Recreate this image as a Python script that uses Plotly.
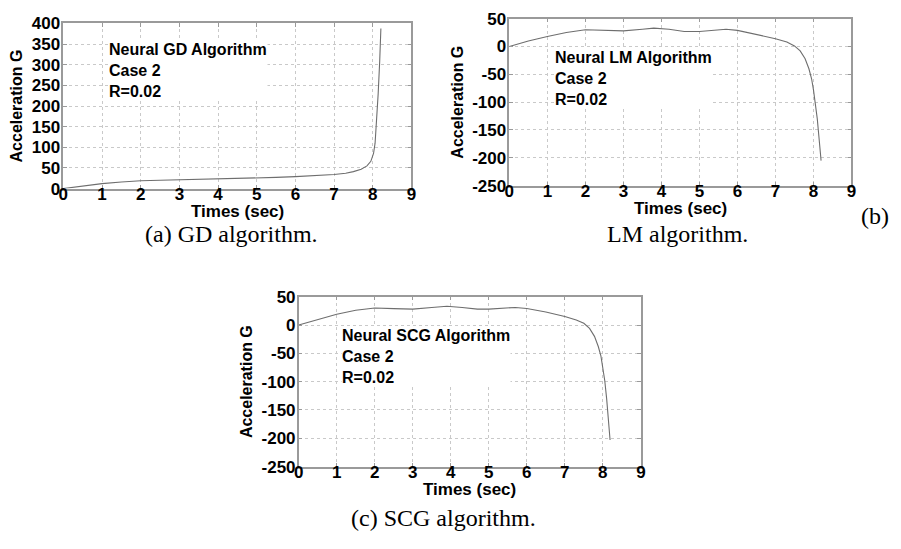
import plotly.graph_objects as go

W, H = 901, 549

# Time axis and acceleration values for each network
t_gd = [0, 0.5, 1, 1.5, 2, 2.5, 3, 3.5, 4, 4.5, 5, 5.5, 6, 6.5, 7, 7.3, 7.5, 7.7,
        7.85, 7.95, 8.02, 8.06, 8.1, 8.14, 8.18, 8.21]
acc_gd = [0, 6, 12, 16, 19, 20, 21, 22, 24, 25, 26, 27, 29, 31, 34, 37, 41, 47,
          55, 66, 85, 110, 160, 230, 310, 388]

t_lm = [0, 0.5, 1, 1.5, 2, 2.5, 3, 3.5, 3.8, 4.2, 4.6, 5, 5.4, 5.7, 6, 6.5, 7, 7.3,
        7.5, 7.65, 7.78, 7.88, 7.95, 8.0, 8.05, 8.1, 8.14, 8.18, 8.2]
acc_lm = [0, 10, 18, 25, 30, 29, 28, 31, 33, 31, 27, 27, 29, 31, 29, 22, 14, 8,
          1, -8, -22, -40, -58, -78, -100, -130, -160, -190, -205]

t_scg = [0, 0.5, 1, 1.5, 2, 2.5, 3, 3.5, 3.9, 4.3, 4.7, 5, 5.3, 5.7, 6, 6.5, 7, 7.3,
         7.5, 7.65, 7.78, 7.88, 7.95, 8.0, 8.05, 8.1, 8.14, 8.17, 8.19]
acc_scg = [0, 10, 19, 26, 30, 29, 28, 31, 33, 31, 28, 28, 29, 31, 29, 23, 15, 9,
           3, -6, -20, -38, -55, -75, -98, -130, -160, -188, -203]

x_ticks = [0, 1, 2, 3, 4, 5, 6, 7, 8, 9]
y_ticks_gd = [0, 50, 100, 150, 200, 250, 300, 350, 400]
y_ticks_lm = [50, 0, -50, -100, -150, -200, -250]

labels = ["Neural GD Algorithm<br>Case 2<br>R=0.02",
          "Neural LM Algorithm<br>Case 2<br>R=0.02",
          "Neural SCG Algorithm<br>Case 2<br>R=0.02"]
captions = ["(a) GD algorithm.", "LM algorithm.", "(c) SCG algorithm."]
x_title = "Times (sec)"
y_title = "Acceleration G"


def px(x):
    return x / W


def py(y):
    return 1 - y / H


# panel boxes in pixels: (left, right, top, bottom)
boxes = [(59, 411, 15, 186), (510, 856, 10, 183), (297, 643, 298, 474)]

SANS = "Liberation Sans, Arial, sans-serif"
SERIF = "Liberation Serif, Times New Roman, serif"
LINE = "#6e6e6e"
FRAME = "#9a9a9a"
GRID = "#c9c9c9"

fig = go.Figure()
series = [(t_gd, acc_gd), (t_lm, acc_lm), (t_scg, acc_scg)]
for i, (tx, ty) in enumerate(series):
    sfx = "" if i == 0 else str(i + 1)
    fig.add_trace(go.Scatter(x=tx, y=ty, mode="lines", xaxis="x" + sfx, yaxis="y" + sfx,
                             line=dict(color=LINE, width=1.1), showlegend=False,
                             hoverinfo="skip"))

layout = dict(width=W, height=H, margin=dict(l=0, r=0, t=0, b=0),
              paper_bgcolor="white", plot_bgcolor="white", annotations=[])

for i, (l, r, t, b) in enumerate(boxes):
    sfx = "" if i == 0 else str(i + 1)
    yt = y_ticks_gd if i == 0 else y_ticks_lm
    yr = [0, 400] if i == 0 else [-250, 50]
    common = dict(showline=True, linecolor=FRAME, linewidth=1.5, mirror="ticks",
                  ticks="inside", ticklen=4, tickcolor=FRAME,
                  showgrid=True, gridcolor=GRID, griddash="dot", gridwidth=1,
                  zeroline=False,
                  tickfont=dict(family=SANS, size=17, color="black", weight="bold"))
    layout["xaxis" + sfx] = dict(common, domain=[px(l), px(r)], range=[0, 9],
                                 tickvals=x_ticks, ticktext=[str(v) for v in x_ticks],
                                 anchor="y" + sfx, ticklabelstandoff=-11)
    layout["yaxis" + sfx] = dict(common, domain=[py(b), py(t)], range=yr,
                                 tickvals=yt, ticktext=[str(v) for v in yt],
                                 anchor="x" + sfx, ticklabelstandoff=-2,
                                 title=dict(text=y_title, standoff=5,
                                            font=dict(family=SANS, size=16, color="black",
                                                      weight="bold")))
    # x-axis title placed just under the tick labels
    layout["annotations"].append(dict(
        text=x_title, xref="paper", yref="paper", x=px((l + r) / 2), y=py(b + 24),
        xanchor="center", yanchor="middle", showarrow=False,
        font=dict(family=SANS, size=17, color="black", weight="bold")))

# in-plot labels
label_pos = [(104, 32), (555, 40), (340, 328)]
for (x, y), txt in zip(label_pos, labels):
    layout["annotations"].append(dict(
        text=txt, xref="paper", yref="paper", x=px(x), y=py(y),
        xanchor="left", yanchor="top", align="left", showarrow=False,
        bgcolor="white", borderpad=0,
        font=dict(family=SANS, size=16, color="black", weight="bold")))

# captions
cap_pos = [(229, 233), (680, 233), (443, 527)]
for (x, y), txt in zip(cap_pos, captions):
    layout["annotations"].append(dict(
        text=txt, xref="paper", yref="paper", x=px(x), y=py(y),
        xanchor="center", yanchor="middle", showarrow=False,
        font=dict(family=SERIF, size=24, color="black")))
layout["annotations"].append(dict(
    text="(b)", xref="paper", yref="paper", x=px(880), y=py(214),
    xanchor="center", yanchor="middle", showarrow=False,
    font=dict(family=SERIF, size=24, color="black")))

fig.update_layout(**layout)
fig.write_html("out.html")
